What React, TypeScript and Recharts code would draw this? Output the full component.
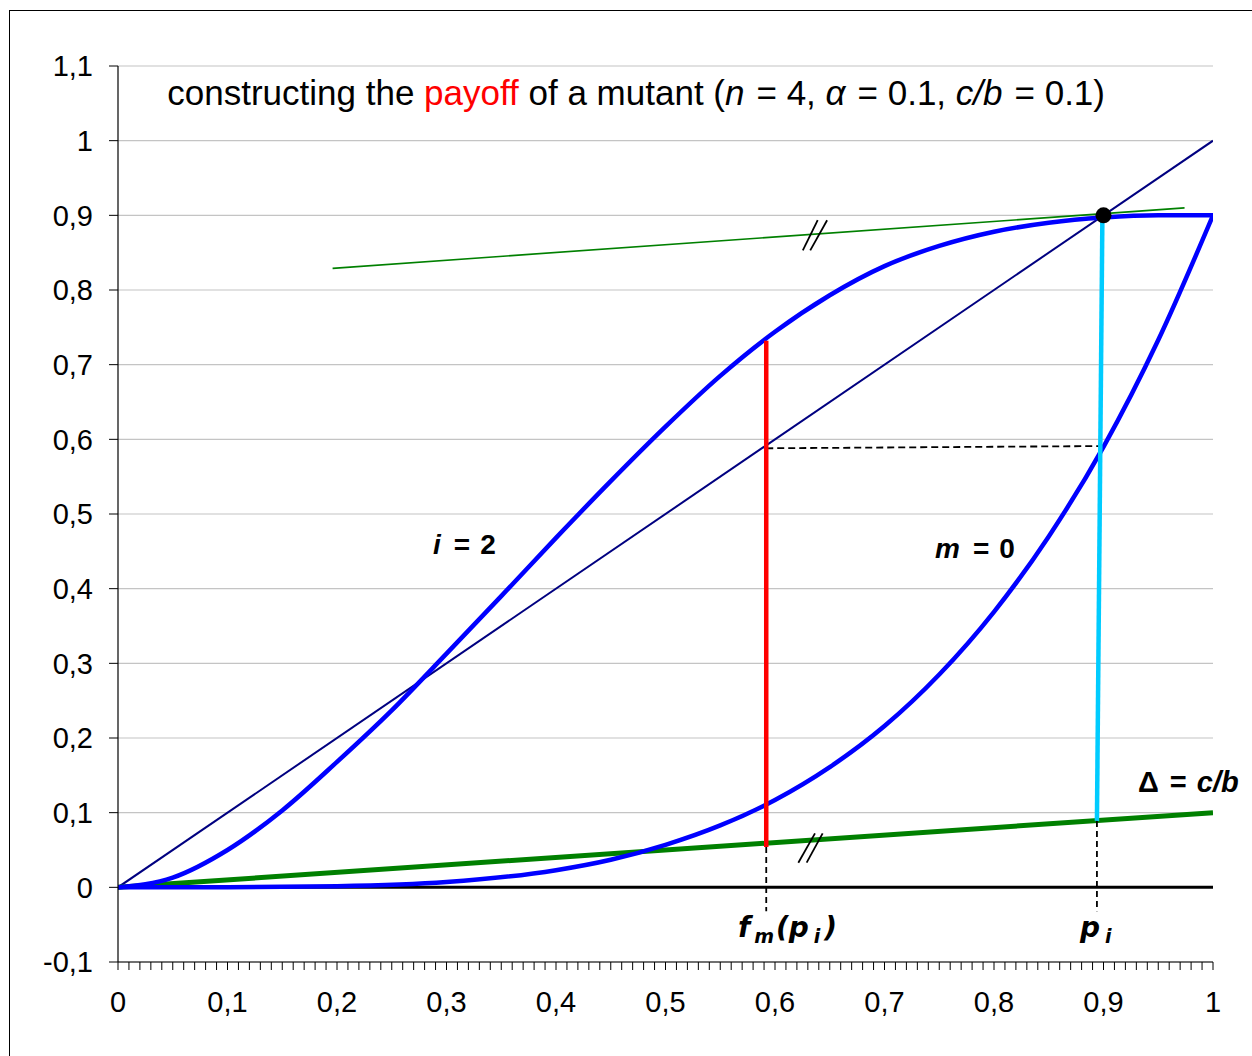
import { LineChart, Line, XAxis, YAxis, CartesianGrid, ReferenceDot } from "recharts";

// axis ticks
const X_TICKS = Array.from({ length: 101 }, (_, i) => i / 100);
const Y_TICKS = [-0.1, 0, 0.1, 0.2, 0.3, 0.4, 0.5, 0.6, 0.7, 0.8, 0.9, 1, 1.1];

// y = x reference
const DIAG_X = [0, 1];
const DIAG_Y = [0, 1];

// payoff curve for i = 2
const I2_X = [0, 0.05, 0.1, 0.15, 0.2, 0.25, 0.3, 0.35, 0.4, 0.45, 0.5, 0.55, 0.6, 0.65, 0.7, 0.75, 0.8, 0.85, 0.9, 0.95, 1];
const I2_Y = [0, 0.013, 0.05, 0.103, 0.168, 0.237, 0.313, 0.39, 0.468, 0.544, 0.617, 0.685, 0.744, 0.793, 0.832, 0.859, 0.878, 0.89, 0.897, 0.9, 0.9];

// payoff curve for m = 0
const M0_X = [0, 0.1, 0.2, 0.3, 0.4, 0.45, 0.5, 0.55, 0.6, 0.65, 0.7, 0.75, 0.8, 0.85, 0.9, 0.95, 1];
const M0_Y = [0, 0.0002, 0.0015, 0.007, 0.023, 0.037, 0.057, 0.083, 0.117, 0.161, 0.216, 0.285, 0.369, 0.47, 0.59, 0.733, 0.9];

// Delta = c/b line and its parallel tangent
const DELTA_X = [0, 1];
const DELTA_Y = [0, 0.1];
const TANGENT_X = [0.196, 0.974];
const TANGENT_Y = [0.829, 0.91];

const ZERO_X = [0, 1];
const ZERO_Y = [0, 0];

// construction segments
const RED_X = [0.592, 0.592];
const RED_Y = [0.054, 0.732];
const CYAN_X = [0.894, 0.899];
const CYAN_Y = [0.089, 0.9];
const HDASH_X = [0.592, 0.897];
const HDASH_Y = [0.588, 0.591];
const VDASH_RED_X = [0.592, 0.592];
const VDASH_RED_Y = [0.054, -0.032];
const VDASH_CYAN_X = [0.894, 0.894];
const VDASH_CYAN_Y = [0.089, -0.032];

// "//" parallel marks
const SLASH_TOP_1_X = [0.6254, 0.639];
const SLASH_TOP_2_X = [0.6322, 0.6476];
const SLASH_TOP_Y = [0.853, 0.8935];
const SLASH_BOT_1_X = [0.6213, 0.6365];
const SLASH_BOT_2_X = [0.6289, 0.6435];
const SLASH_BOT_Y = [0.033, 0.0723];

const FONT = "'Liberation Sans', Arial, sans-serif";
const FONT_V = "'DejaVu Sans', Verdana, sans-serif";

const zip = (xs: number[], ys: number[]) => xs.map((x, i) => ({ x, y: ys[i] }));

const fmtX = (v: number) => {
  const k = Math.round(v * 100);
  if (k % 10 !== 0) return "";
  if (k === 0) return "0";
  if (k === 100) return "1";
  return "0," + k / 10;
};

const fmtY = (v: number) => String(Number(v.toFixed(1))).replace(".", ",");

type P = { cx?: number; cy?: number };

export default function App() {
  const seg = (xs: number[], ys: number[], stroke: string, w: number, dash?: string, type: any = "linear") => (
    <Line
      data={zip(xs, ys)}
      dataKey="y"
      type={type}
      stroke={stroke}
      strokeWidth={w}
      strokeDasharray={dash}
      dot={false}
      activeDot={false}
      isAnimationActive={false}
    />
  );

  return (
    <div style={{ position: "relative", width: 1252, height: 1056, overflow: "hidden", background: "#fff" }}>
      <style>{"body{margin:0;overflow:hidden}"}</style>
      <div style={{ position: "absolute", left: 9, top: 10, width: 1400, height: 1300, border: "1.5px solid #000" }} />
      <LineChart width={1252} height={1056} margin={{ top: 66, right: 39, left: 0, bottom: 0 }}>
        <CartesianGrid vertical={false} stroke="#c4c4c4" strokeWidth={1.2} />
        <XAxis
          type="number"
          dataKey="x"
          domain={[0, 1]}
          ticks={X_TICKS}
          interval={0}
          tickFormatter={fmtX}
          height={94}
          tickSize={8}
          tickMargin={21}
          axisLine={{ stroke: "#000", strokeWidth: 1.2 }}
          tickLine={{ stroke: "#000" }}
          tick={{ fill: "#000", fontSize: 29, fontFamily: FONT }}
          allowDataOverflow
        />
        <YAxis
          type="number"
          domain={[-0.1, 1.1]}
          ticks={Y_TICKS}
          interval={0}
          tickFormatter={fmtY}
          width={118}
          tickSize={9}
          tickMargin={16}
          axisLine={{ stroke: "#000", strokeWidth: 1.2 }}
          tickLine={{ stroke: "#000" }}
          tick={{ fill: "#000", fontSize: 29, fontFamily: FONT }}
          allowDataOverflow
        />
        {seg(ZERO_X, ZERO_Y, "#000", 3)}
        {seg(DIAG_X, DIAG_Y, "#000080", 2)}
        {seg(TANGENT_X, TANGENT_Y, "#008000", 1.6)}
        {seg(DELTA_X, DELTA_Y, "#008000", 5)}
        {seg(HDASH_X, HDASH_Y, "#000", 1.8, "7 4")}
        {seg(VDASH_RED_X, VDASH_RED_Y, "#000", 1.8, "6 4")}
        {seg(VDASH_CYAN_X, VDASH_CYAN_Y, "#000", 1.8, "6 4")}
        {seg(I2_X, I2_Y, "#0000ff", 4.5, undefined, "monotone")}
        {seg(M0_X, M0_Y, "#0000ff", 4.5, undefined, "monotone")}
        {seg(RED_X, RED_Y, "#ff0000", 4.5)}
        {seg(CYAN_X, CYAN_Y, "#00ccff", 4.5)}
        {seg(SLASH_TOP_1_X, SLASH_TOP_Y, "#000", 1.8)}
        {seg(SLASH_TOP_2_X, SLASH_TOP_Y, "#000", 1.8)}
        {seg(SLASH_BOT_1_X, SLASH_BOT_Y, "#000", 1.8)}
        {seg(SLASH_BOT_2_X, SLASH_BOT_Y, "#000", 1.8)}
        <ReferenceDot x={0.9} y={0.9} r={8} fill="#000" stroke="none" />
        <ReferenceDot
          x={0.045}
          y={1.048}
          r={1}
          shape={(p: P) => (
            <text x={p.cx} y={p.cy} fontSize={35} fontFamily={FONT} fill="#000">
              {"constructing the "}
              <tspan fill="#ff0000">payoff</tspan>
              {" of a mutant ("}
              <tspan fontStyle="italic">n</tspan>
              <tspan dx={12}>{"= 4, "}</tspan>
              <tspan fontStyle="italic">α</tspan>
              <tspan dx={12}>{"= 0.1, "}</tspan>
              <tspan fontStyle="italic">c/b</tspan>
              <tspan dx={12}>{"= 0.1)"}</tspan>
            </text>
          )}
        />
        <ReferenceDot
          x={0.2877}
          y={0.446}
          r={1}
          shape={(p: P) => (
            <text x={p.cx} y={p.cy} fontSize={28} fontWeight="bold" fontFamily={FONT} fill="#000">
              <tspan fontStyle="italic">i</tspan>
              <tspan dx={13}>=</tspan>
              <tspan dx={10}>2</tspan>
            </text>
          )}
        />
        <ReferenceDot
          x={0.7461}
          y={0.441}
          r={1}
          shape={(p: P) => (
            <text x={p.cx} y={p.cy} fontSize={28} fontWeight="bold" fontFamily={FONT} fill="#000">
              <tspan fontStyle="italic">m</tspan>
              <tspan dx={13}>=</tspan>
              <tspan dx={10}>0</tspan>
            </text>
          )}
        />
        <ReferenceDot
          x={0.9315}
          y={0.1276}
          r={1}
          shape={(p: P) => (
            <text x={p.cx} y={p.cy} fontSize={29} fontWeight="bold" fontFamily={FONT} fill="#000">
              {"Δ"}
              <tspan dx={11}>=</tspan>
              <tspan dx={10} fontStyle="italic">c/b</tspan>
            </text>
          )}
        />
        <ReferenceDot
          x={0.5662}
          y={-0.0666}
          r={1}
          shape={(p: P) => (
            <text x={p.cx} y={p.cy} fontSize={28} fontWeight="bold" fontStyle="italic" fontFamily={FONT_V} fill="#000">
              f<tspan fontSize={19} dy={6} dx={4}>m</tspan>
              <tspan dy={-6} dx={2}>(p</tspan>
              <tspan fontSize={19} dy={6} dx={5}>i</tspan>
              <tspan dy={-6} dx={4}>)</tspan>
            </text>
          )}
        />
        <ReferenceDot
          x={0.8785}
          y={-0.0666}
          r={1}
          shape={(p: P) => (
            <text x={p.cx} y={p.cy} fontSize={28} fontWeight="bold" fontStyle="italic" fontFamily={FONT_V} fill="#000">
              p<tspan fontSize={19} dy={6} dx={5}>i</tspan>
            </text>
          )}
        />
      </LineChart>
    </div>
  );
}
